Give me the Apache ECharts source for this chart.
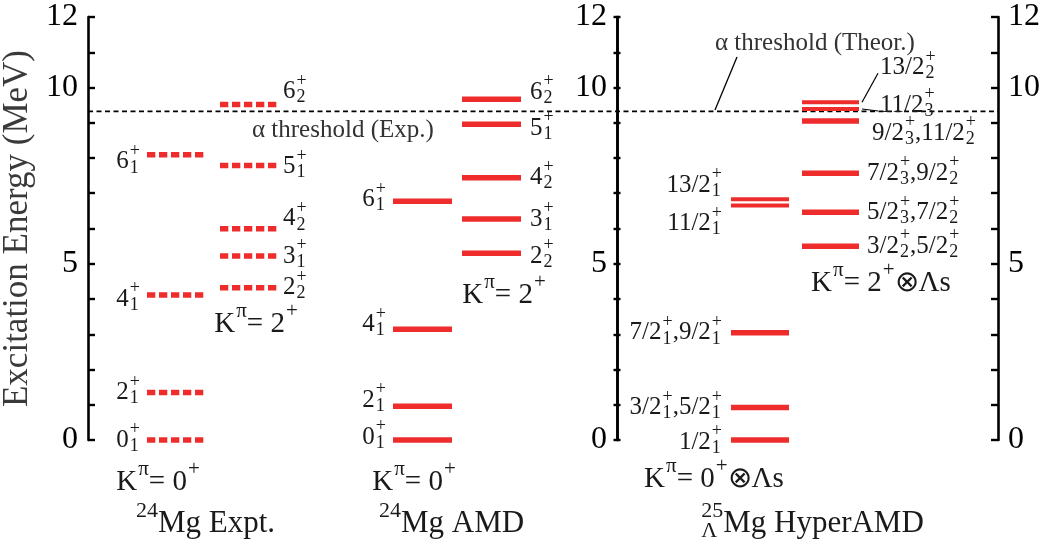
<!DOCTYPE html>
<html>
<head>
<meta charset="utf-8">
<script src="https://cdn.jsdelivr.net/npm/echarts@6/dist/echarts.min.js"></script>
<style>
  html, body { margin: 0; background: #fff; }
  #chart { width: 1045px; height: 547px; }
</style>
</head>
<body>
<div id="chart"></div>
<script>
// excitation energies (MeV)
var exptGround = [0, 1.35, 4.11, 8.09];
var exptGroundLabels = ['0_1^+', '2_1^+', '4_1^+', '6_1^+'];
var exptGamma = [4.32, 5.22, 5.99, 7.79, 9.52];
var exptGammaLabels = ['2_2^+', '3_1^+', '4_2^+', '5_1^+', '6_2^+'];

var amdGround = [0, 0.96, 3.14, 6.77];
var amdGroundLabels = ['0_1^+', '2_1^+', '4_1^+', '6_1^+'];
var amdGamma = [5.30, 6.27, 7.44, 8.96, 9.67];
var amdGammaLabels = ['2_2^+', '3_1^+', '4_2^+', '5_1^+', '6_2^+'];

var hypGround = [0, 0.92, 3.04, 6.65, 6.83];
var hypGroundLabels = ['1/2_1^+', '3/2_1^+,5/2_1^+', '7/2_1^+,9/2_1^+', '11/2_1^+', '13/2_1^+'];
var hypGamma = [5.50, 6.46, 7.57, 9.05, 9.39, 9.58];
var hypGammaLabels = ['3/2_2^+,5/2_2^+', '5/2_3^+,7/2_2^+', '7/2_3^+,9/2_2^+', '9/2_3^+,11/2_2^+', '11/2_3^+', '13/2_2^+'];

var alphaThreshold = 9.32;
var yTickLabels = [0, 5, 10, 12];

var FONT = '"Liberation Serif", "Times New Roman", serif';
var RED = '#ee2c2c';
var INK = '#1a1a1a';

// layout of the six level columns (x in page px; label nudges in px, + = down)
var columns = [
  { levels: exptGround, labels: exptGroundLabels, x0: 147, x1: 207, dashed: true, side: 'left', lx: 140, dy: [0, 0, 4, 7] },
  { levels: exptGamma, labels: exptGammaLabels, x0: 220, x1: 277, dashed: true, side: 'right', lx: 283, dy: [0, 0, -10, 1, -13] },
  { levels: amdGround, labels: amdGroundLabels, x0: 393, x1: 452, side: 'left', lx: 386, dy: [-3, -6, -5, -2] },
  { levels: amdGamma, labels: amdGammaLabels, x0: 462, x1: 521, side: 'right', lx: 530, dy: [3, 0, 0, 4, -7] },
  { levels: hypGround, labels: hypGroundLabels, x0: 731, x1: 789, side: 'left', lx: 722, dy: [2, 0, 0, 18, -14] },
  { levels: hypGamma, labels: hypGammaLabels, x0: 802, x1: 859, side: 'right', lx: 867, dy: [0, 0, 0, 12, -4, -35],
    dx: [0, 0, 0, 5, 13, 13], leader: [false, false, false, false, true, true] }
];

var mctx = document.createElement('canvas').getContext('2d');
function textWidth(s, size) { mctx.font = size + 'px ' + FONT; return mctx.measureText(s).width; }

// tiny TeX-ish parser: "9/2_3^+" -> runs with stacked sub/superscripts
function parseMath(s) {
  var out = [], buf = '', i = 0;
  while (i < s.length) {
    var c = s[i];
    if (c === '_' || c === '^') {
      if (buf) { out.push({ t: 'n', s: buf }); buf = ''; }
      i++;
      var arg;
      if (s[i] === '{') { var j = s.indexOf('}', i); arg = s.slice(i + 1, j); i = j + 1; }
      else { arg = s[i]; i++; }
      out.push({ t: c === '_' ? 'sub' : 'sup', s: arg });
    } else { buf += c; i++; }
  }
  if (buf) out.push({ t: 'n', s: buf });
  return out;
}

function mathText(s, x, y, size, anchor, color) {
  var toks = parseMath(s), small = Math.round(size * 0.72), runs = [], cx = 0, i = 0;
  while (i < toks.length) {
    if (toks[i].t === 'n') {
      runs.push({ s: toks[i].s, dx: cx, dy: 0, size: size });
      cx += textWidth(toks[i].s, size); i++;
    } else {
      var w = 0;
      while (i < toks.length && toks[i].t !== 'n') {
        var tk = toks[i];
        runs.push({ s: tk.s, dx: cx + 1, dy: tk.t === 'sup' ? -0.42 * size : 0.24 * size, size: small });
        w = Math.max(w, textWidth(tk.s, small) + 1);
        i++;
      }
      cx += w;
    }
  }
  var x0 = anchor === 'right' ? x - cx : anchor === 'center' ? x - cx / 2 : x;
  return runs.map(function (r) {
    return { type: 'text', x: x0 + r.dx, y: y + r.dy, silent: true,
      style: { text: r.s, font: r.size + 'px ' + FONT, fill: color || INK, align: 'left', verticalAlign: 'middle' } };
  });
}

var levelData = [];
columns.forEach(function (c, ci) {
  c.levels.forEach(function (e, k) { levelData.push([ci, k, e]); });
});

function renderLevel(params, api) {
  var col = columns[api.value(0)], k = api.value(1), E = api.value(2);
  var a = api.coord([col.x0, E]), b = api.coord([col.x1, E]);
  var close = col.levels.some(function (o, j) { return j !== k && Math.abs(o - E) < 0.25; });
  var kids = [{
    type: 'line', silent: true,
    shape: { x1: a[0], y1: a[1], x2: b[0], y2: b[1] },
    style: { stroke: RED, lineWidth: close ? 4 : 5.5, lineDash: col.dashed ? [8.3, 3.7] : null, lineCap: 'butt' }
  }];
  var ly = a[1] + (col.dy ? col.dy[k] : 0);
  var lx = col.lx + (col.dx ? col.dx[k] : 0);
  kids = kids.concat(mathText(col.labels[k], lx, ly, 25, col.side === 'left' ? 'right' : 'left'));
  if (col.leader && col.leader[k]) {
    kids.push({ type: 'line', silent: true,
      shape: { x1: b[0] + 3, y1: a[1], x2: lx - 2, y2: ly + 6 },
      style: { stroke: '#000', lineWidth: 1.2 } });
  }
  return { type: 'group', children: kids };
}

// dashed alpha-threshold line across the whole plot
function renderThreshold(params, api) {
  var a = api.coord([88, api.value(0)]), b = api.coord([998, api.value(0)]);
  return { type: 'line', silent: true, shape: { x1: a[0], y1: a[1], x2: b[0], y2: b[1] },
    style: { stroke: '#000', lineWidth: 1.8, lineDash: [5, 3.5] } };
}

function yAxisBase(extra) {
  var ax = {
    type: 'value', min: 0, max: 12, interval: 1,
    axisLine: { show: true, onZero: false, lineStyle: { color: '#000', width: 2.6 } },
    axisTick: { show: true, inside: true, length: 7, lineStyle: { color: '#000', width: 2.4 } },
    axisLabel: {
      show: true, margin: 10, color: '#000', fontFamily: FONT, fontSize: 32,
      formatter: function (v) { return yTickLabels.indexOf(v) >= 0 ? String(v) : ''; }
    },
    splitLine: { show: false }
  };
  return echarts.util.merge(ax, extra, true);
}

var freeText = [
  ['K^π= 0^+', 158, 482, 29],
  ['K^π= 2^+', 256, 324, 29],
  ['K^π= 0^+', 414, 482, 29],
  ['K^π= 2^+', 504, 295, 29],
  ['K^π= 0^+⊗Λs', 714, 479, 29],
  ['K^π= 2^+⊗Λs', 881, 283, 29],
  ['^{24}Mg Expt.', 205, 524, 31],
  ['^{24}Mg AMD', 451, 524, 31],
  ['^{25}_ΛMg HyperAMD', 812, 524, 31]
];

var graphics = [];
freeText.forEach(function (t) {
  graphics.push({ type: 'group', children: mathText(t[0], t[1], t[2], t[3], 'center') });
});
graphics.push({ type: 'group', children: mathText('α threshold (Exp.)', 252, 130, 25, 'left', '#333') });
graphics.push({ type: 'group', children: mathText('α threshold (Theor.)', 715, 43, 25, 'left', '#333') });
graphics.push({ type: 'line', silent: true, shape: { x1: 737, y1: 57, x2: 715, y2: 110 }, style: { stroke: '#000', lineWidth: 1.3 } });

var chart = echarts.init(document.getElementById('chart'));
chart.setOption({
  animation: false,
  grid: { left: 88, right: 47, top: 17, bottom: 107, containLabel: false, outerBoundsMode: 'none' },
  xAxis: { type: 'value', min: 88, max: 998, show: false },
  yAxis: [
    yAxisBase({
      position: 'left',
      name: 'Excitation Energy (MeV)', nameLocation: 'middle', nameGap: 42, nameRotate: 90,
      nameTextStyle: { fontFamily: FONT, fontSize: 35, color: '#3a3a3a' }
    }),
    yAxisBase({ position: 'left', offset: -529, axisTick: { length: 3.5 } }),
    yAxisBase({ position: 'left', offset: -529, axisTick: { inside: false, length: 3.5 }, axisLabel: { show: false } }),
    yAxisBase({ position: 'right', offset: 0 })
  ],
  graphic: graphics,
  series: [
    {
      type: 'custom', name: 'threshold', yAxisIndex: 0,
      data: [[alphaThreshold]], renderItem: renderThreshold, clip: false, encode: { y: 0 }
    },
    {
      type: 'custom', name: 'levels', xAxisIndex: 0, yAxisIndex: 0,
      data: levelData, renderItem: renderLevel, clip: false,
      encode: { x: 0, y: 2 }
    }
  ]
});
</script>
</body>
</html>
